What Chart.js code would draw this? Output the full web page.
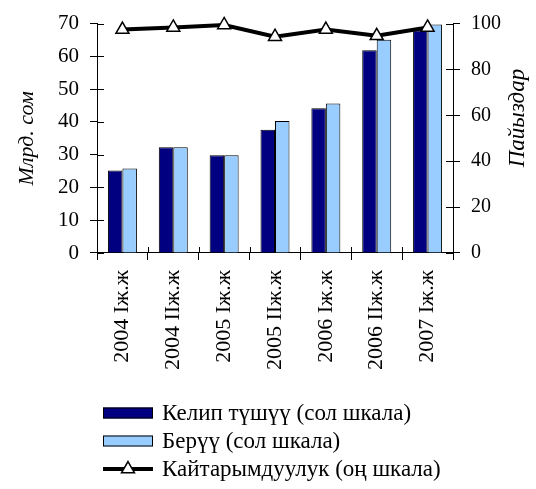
<!DOCTYPE html>
<html>
<head>
<meta charset="utf-8">
<script src="https://cdn.jsdelivr.net/npm/chart.js@4/dist/chart.umd.min.js"></script>
<style>
  html, body { margin: 0; padding: 0; background: #fff; }
  #wrap { width: 536px; height: 489px; position: relative; }
</style>
</head>
<body>
<div id="wrap"><canvas id="c" width="536" height="489"></canvas></div>
<script>
// Half-year periods
const categories = ['2004 Iж.ж', '2004 IIж.ж', '2005 Iж.ж', '2005 IIж.ж', '2006 Iж.ж', '2006 IIж.ж', '2007 Iж.ж'];
// Billion som (left scale)
const inflows    = [25.2, 32.3, 29.8, 37.6, 44.2, 61.9, 68.0];
const issued     = [25.8, 32.3, 29.8, 40.3, 45.6, 65.1, 69.7];
// Percent (right scale)
const returnRate = [97.4, 98.3, 99.4, 94.3, 97.4, 94.7, 98.3];

const seriesNames = ['Келип түшүү (сол шкала)', 'Берүү (сол шкала)', 'Кайтарымдуулук (оң шкала)'];
const leftAxisTitle = 'Млрд. сом';
const rightAxisTitle = 'Пайыздар';
const leftTicks  = { min: 0, max: 70, step: 10 };
const rightTicks = { min: 0, max: 100, step: 20 };

const FONT = 'Liberation Serif';

// Tick marks that cross the axis lines (inner half)
const innerTicks = {
  id: 'innerTicks',
  afterDraw(chart) {
    const { ctx, chartArea, scales } = chart;
    ctx.save();
    ctx.strokeStyle = '#000';
    ctx.lineWidth = 1;
    scales.y.ticks.forEach(t => {
      const py = Math.round(scales.y.getPixelForValue(t.value)) + 0.5;
      ctx.beginPath(); ctx.moveTo(chartArea.left, py); ctx.lineTo(chartArea.left + 7, py); ctx.stroke();
    });
    scales.y1.ticks.forEach(t => {
      const py = Math.round(scales.y1.getPixelForValue(t.value)) + 0.5;
      ctx.beginPath(); ctx.moveTo(chartArea.right - 7, py); ctx.lineTo(chartArea.right, py); ctx.stroke();
    });
    const xs = scales.x;
    for (let i = 0; i <= categories.length; i++) {
      const px = Math.round(xs.getPixelForValue(i - 0.5)) + 0.5;
      ctx.beginPath(); ctx.moveTo(px, chartArea.bottom - 6); ctx.lineTo(px, chartArea.bottom); ctx.stroke();
    }
    ctx.restore();
  }
};

// Right axis title reading bottom-to-top, and the stacked legend below the plot
const extras = {
  id: 'extras',
  afterDraw(chart) {
    const { ctx, chartArea } = chart;
    ctx.save();
    ctx.fillStyle = '#000';
    ctx.font = 'italic 23px "' + FONT + '"';
    ctx.textAlign = 'center';
    ctx.textBaseline = 'middle';
    ctx.translate(518, 118);
    ctx.rotate(-Math.PI / 2);
    ctx.fillText(rightAxisTitle, 0, 0);
    ctx.restore();

    const ds = chart.data.datasets;
    const order = [1, 2, 0]; // inflows, issued, rate
    const x0 = 103, w = 50, tx = 162;
    const rows = [413, 441, 469];
    order.forEach((di, r) => {
      const d = ds[di];
      const y = rows[r];
      ctx.save();
      if (d.type === 'line') {
        ctx.strokeStyle = d.borderColor;
        ctx.lineWidth = d.borderWidth;
        ctx.beginPath(); ctx.moveTo(x0, y); ctx.lineTo(x0 + w, y); ctx.stroke();
        ctx.fillStyle = d.pointBackgroundColor;
        ctx.strokeStyle = d.pointBorderColor;
        ctx.lineWidth = d.pointBorderWidth;
        Chart.helpers.drawPoint(ctx, { pointStyle: d.pointStyle, radius: d.pointRadius, borderWidth: d.pointBorderWidth }, x0 + w / 2, y);
      } else {
        ctx.fillStyle = d.backgroundColor;
        ctx.fillRect(x0, y - 5.5, w, 11);
        ctx.strokeStyle = '#000';
        ctx.lineWidth = 1;
        ctx.strokeRect(x0 + 0.5, y - 5, w - 1, 10);
      }
      ctx.fillStyle = '#000';
      ctx.font = '23px "' + FONT + '"';
      ctx.textAlign = 'left';
      ctx.textBaseline = 'middle';
      ctx.fillText(d.label, tx, y + 1);
      ctx.restore();
    });
  }
};

new Chart(document.getElementById('c'), {
  data: {
    labels: categories,
    datasets: [
      {
        type: 'line', label: seriesNames[2], data: returnRate, yAxisID: 'y1',
        borderColor: '#000', borderWidth: 4,
        pointStyle: 'triangle', pointRadius: 7.5, pointHoverRadius: 7.5,
        pointBackgroundColor: '#fff', pointBorderColor: '#000', pointBorderWidth: 1.5,
        clip: false, order: 0, tension: 0
      },
      {
        type: 'bar', label: seriesNames[0], data: inflows, yAxisID: 'y',
        backgroundColor: '#000080', borderColor: '#000', borderWidth: 1, order: 1
      },
      {
        type: 'bar', label: seriesNames[1], data: issued, yAxisID: 'y',
        backgroundColor: '#99ccff', borderColor: '#000', borderWidth: 1, order: 1
      }
    ]
  },
  options: {
    responsive: false,
    animation: false,
    devicePixelRatio: 1,
    layout: { padding: { top: 20, bottom: 99, left: 0, right: 0 } },
    datasets: { bar: { categoryPercentage: 0.57, barPercentage: 1 } },
    plugins: { legend: { display: false }, tooltip: { enabled: false } },
    scales: {
      x: {
        offset: true,
        grid: { display: true, drawOnChartArea: false, offset: true, tickLength: 7, color: '#000' },
        border: { display: true, color: '#000', width: 1 },
        ticks: { color: '#000', font: { family: FONT, size: 22 }, minRotation: 90, maxRotation: 90, padding: 10, autoSkip: false },
        afterFit(s) { s.height = 137; }
      },
      y: {
        position: 'left',
        min: leftTicks.min, max: leftTicks.max,
        grid: { display: true, drawOnChartArea: false, tickLength: 7, color: '#000' },
        border: { display: true, color: '#000', width: 1 },
        ticks: { stepSize: leftTicks.step, color: '#000', font: { family: FONT, size: 21 }, padding: 11 },
        title: { display: true, text: leftAxisTitle, color: '#000', font: { family: FONT, size: 22, style: 'italic' }, padding: { top: 14, bottom: 0 } },
        afterFit(s) { s.width = 97; }
      },
      y1: {
        position: 'right',
        min: rightTicks.min, max: rightTicks.max,
        grid: { display: true, drawOnChartArea: false, tickLength: 7, color: '#000' },
        border: { display: true, color: '#000', width: 1 },
        ticks: { stepSize: rightTicks.step, color: '#000', font: { family: FONT, size: 20 }, padding: 11 },
        afterFit(s) { s.width = 83; }
      }
    }
  },
  plugins: [innerTicks, extras]
});
</script>
</body>
</html>
